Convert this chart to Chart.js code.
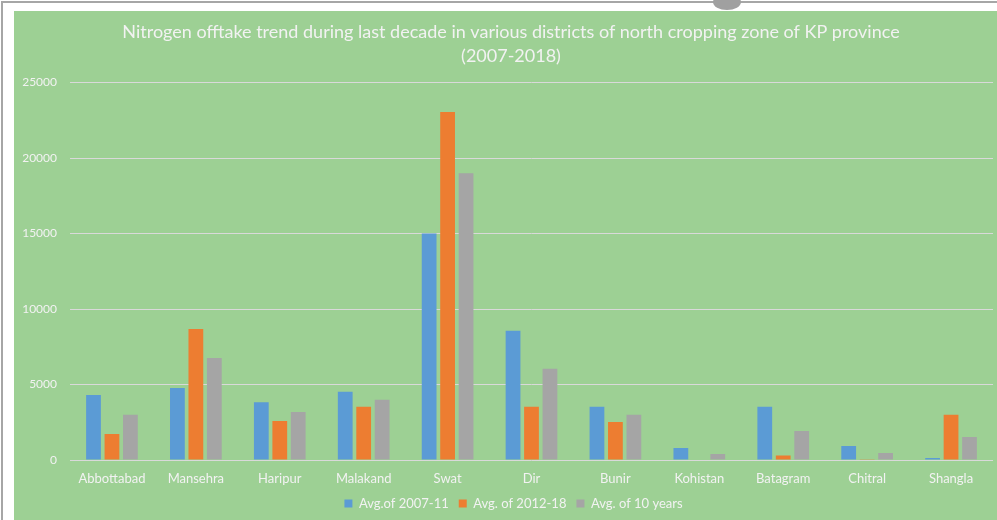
<!DOCTYPE html>
<html>
<head>
<meta charset="utf-8">
<script src="https://cdn.jsdelivr.net/npm/chart.js@4.4.1/dist/chart.umd.min.js"></script>
<style>
  html, body { margin: 0; padding: 0; background: #ffffff; }
  body { width: 997px; height: 520px; position: relative; overflow: hidden; }
  .frame-left { position: absolute; left: 1px; top: 1px; width: 2px; height: 519px; background: #a6a6a6; }
  .frame-top { position: absolute; left: 1px; top: 1px; width: 996px; height: 2px; background: #a6a6a6; }
  .blob { position: absolute; left: 713px; top: -6px; width: 28px; height: 16px; border-radius: 50%; background: #a0a0a0; }
  .panel { position: absolute; left: 14px; top: 11px; width: 983px; height: 509px; background: #9dd094; }
</style>
</head>
<body>
<div class="frame-left"></div>
<div class="frame-top"></div>
<div class="blob"></div>
<div class="panel"><canvas id="offtakeChart" width="983" height="509"></canvas></div>
<script>
// districts of north cropping zone
const districts = ['Abbottabad', 'Mansehra', 'Haripur', 'Malakand', 'Swat', 'Dir',
  'Bunir', 'Kohistan', 'Batagram', 'Chitral', 'Shangla'];

// nitrogen offtake (tonnes)
const avg2007to11 = [4300, 4770, 3820, 4520, 15000, 8560, 3530, 800, 3530, 930, 130];
const avg2012to18 = [1720, 8680, 2580, 3530, 23050, 3530, 2520, 30, 290, 20, 3000];
const avgTenYears = [3000, 6760, 3180, 3990, 19000, 6040, 3000, 400, 1920, 460, 1520];

const yTicks = [0, 5000, 10000, 15000, 20000, 25000];

const TEXT_COLOR = '#f2f2f2';
const FONT = 'Lato, "Open Sans", sans-serif';

const ctx = document.getElementById('offtakeChart');

new Chart(ctx, {
  type: 'bar',
  data: {
    labels: districts,
    datasets: [
      { label: 'Avg.of 2007-11', data: avg2007to11, backgroundColor: '#5b9bd5' },
      { label: 'Avg. of 2012-18', data: avg2012to18, backgroundColor: '#ed7d31' },
      { label: 'Avg. of 10 years', data: avgTenYears, backgroundColor: '#a5a5a5' }
    ]
  },
  plugins: [{
    // nudge title and legend so they centre on the plot area like the original
    id: 'centreBlocks',
    afterLayout(chart) {
      if (chart.titleBlock) chart.titleBlock.left += 15;
      if (chart.legend) chart.legend.left += 20;
    }
  }],
  options: {
    responsive: false,
    animation: false,
    categoryPercentage: 0.66,
    barPercentage: 0.8,
    layout: { padding: { left: 0, right: 4, top: 3, bottom: 0 } },
    plugins: {
      title: {
        display: true,
        text: ['Nitrogen offtake trend during last decade in various districts of north cropping zone of KP province', '(2007-2018)'],
        color: TEXT_COLOR,
        font: { family: FONT, size: 18, weight: 'normal', lineHeight: 1.35 },
        padding: { top: 6, bottom: 14 }
      },
      legend: {
        position: 'bottom',
        labels: {
          color: TEXT_COLOR,
          font: { family: FONT, size: 13 },
          boxWidth: 8,
          boxHeight: 8,
          padding: 10
        }
      },
      tooltip: { enabled: false }
    },
    scales: {
      x: {
        grid: { display: false },
        border: { display: false },
        ticks: { color: TEXT_COLOR, font: { family: FONT, size: 13 }, padding: 3 },
        afterFit: (axis) => { axis.height = 27; }
      },
      y: {
        min: 0,
        max: 25000,
        afterBuildTicks: (axis) => { axis.ticks = yTicks.map(v => ({ value: v })); },
        grid: { color: '#d9d9d9', lineWidth: 1, drawTicks: false },
        border: { display: false },
        ticks: {
          color: TEXT_COLOR,
          font: { family: FONT, size: 12 },
          padding: 13,
          callback: (value) => String(value)
        },
        afterFit: (axis) => { axis.width = 56; }
      }
    }
  }
});
</script>
</body>
</html>
